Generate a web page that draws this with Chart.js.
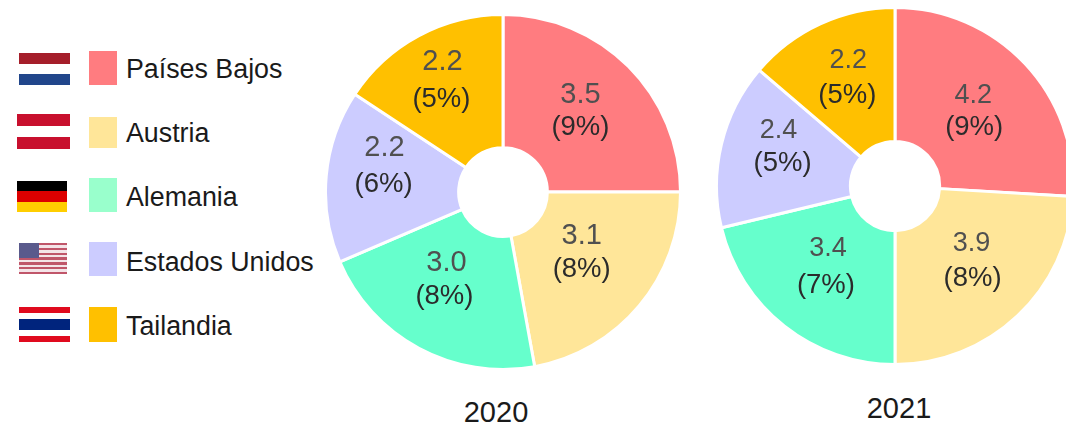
<!DOCTYPE html>
<html lang="es">
<head>
<meta charset="utf-8">
<script src="https://cdn.jsdelivr.net/npm/chart.js@4"></script>
<style>
html,body{margin:0;padding:0;background:#fff;overflow:hidden;width:1066px;height:428px}
#stage{position:relative;width:1066px;height:428px;overflow:hidden;background:#fff;font-family:"Liberation Sans",Arial,sans-serif;filter:blur(0.35px)}
#stage div,#stage span,#stage canvas{position:absolute;display:block}
.flag{box-sizing:border-box}
.sw{left:89px;width:28px}
.lt{left:126px;font-size:26.8px;line-height:34px;color:#1a1a1a;white-space:nowrap}
.yr{color:#1a1a1a;white-space:nowrap;line-height:34px;transform:translateX(-50%)}
</style>
</head>
<body>
<div id="stage">
  <div class="flag" style="left:19px;top:53px;width:51px;height:32px;background:linear-gradient(#a51e2a 0 11px,#fff 11px 21px,#21468b 21px)"></div>
  <div class="flag" style="left:17px;top:114px;width:53px;height:35px;background:linear-gradient(#c8102e 0 12px,#fff 12px 23px,#c8102e 23px)"></div>
  <div class="flag" style="left:17px;top:181px;width:50px;height:31px;background:linear-gradient(#000 0 10px,#dd0000 10px 21px,#ffce00 21px)"></div>
  <div class="flag" style="left:19px;top:243px;width:48px;height:31px;background:repeating-linear-gradient(#c0566a 0 2.4px,#f4e4e8 2.4px 4.8px)">
    <div style="left:0;top:0;width:20px;height:15px;background:#5a5a8c"></div>
  </div>
  <div class="flag" style="left:19px;top:307px;width:51px;height:35px;background:linear-gradient(#e00a1e 0 6px,#fff 6px 12px,#00247d 12px 23px,#fff 23px 29px,#e00a1e 29px)"></div>
  <canvas id="pie2020" style="left:324px;top:13px"></canvas>
  <canvas id="pie2021" style="left:715px;top:6px"></canvas>
  <span class="yr" style="left:496px;top:395px;font-size:29px">2020</span>
  <span class="yr" style="left:899px;top:391px;font-size:29px">2021</span>
</div>
<script>
const categories = ['Países Bajos', 'Austria', 'Alemania', 'Estados Unidos', 'Tailandia'];
const values2020 = [3.5, 3.1, 3.0, 2.2, 2.2];
const shares2020 = ['9%', '8%', '8%', '6%', '5%'];
const values2021 = [4.15, 3.85, 3.4, 2.4, 2.2];
const shares2021 = ['9%', '8%', '7%', '5%', '5%'];
const sliceColors = ['#FF7C80', '#FFE699', '#66FFCC', '#CCCCFF', '#FFC000'];
const legendColors = ['#FF7C80', '#FFE699', '#99FFCC', '#CCCCFF', '#FFC000'];

// label placement, relative to each slice's centre point
const valueNudge2020 = [[-1,-19],[-6.5,-27.5],[-4,-27],[-8,-34],[-8,-32]];
const shareNudge2020 = [[-1,14],[-6.5,6.5],[-6,7],[-9,2],[-9,5]];
const valueNudge2021 = [[-3,-14],[0,-24],[2,-25],[-8,-29],[0,-24]];
const shareNudge2021 = [[-2,18],[1,11],[0,12],[-4,3],[-1,11]];

// legend
const legendTops = [51, 117, 178, 242, 307];
const legendHeights = [34, 31, 34, 34, 35];
const legendTextMid = [69, 133, 197, 262, 326];
const stage = document.getElementById('stage');
categories.forEach((name, i) => {
  const s = document.createElement('div');
  s.className = 'sw';
  s.style.top = legendTops[i] + 'px';
  s.style.height = legendHeights[i] + 'px';
  s.style.background = legendColors[i];
  stage.appendChild(s);
  const t = document.createElement('span');
  t.className = 'lt';
  t.style.top = (legendTextMid[i] - 17) + 'px';
  t.textContent = name;
  stage.appendChild(t);
});

function sliceLabels(values, shares, valueNudge, shareNudge, valueFont, shareFont) {
  return {
    id: 'sliceLabels',
    afterDatasetsDraw(chart) {
      const c = chart.ctx;
      c.save();
      c.textAlign = 'center';
      c.textBaseline = 'middle';
      chart.getDatasetMeta(0).data.forEach((arc, i) => {
        const p = arc.getCenterPoint();
        c.font = valueFont + 'px "Liberation Sans", Arial, sans-serif';
        c.fillStyle = '#505050';
        c.fillText(values[i].toFixed(1), p.x + valueNudge[i][0], p.y + valueNudge[i][1]);
        c.font = shareFont + 'px "Liberation Sans", Arial, sans-serif';
        c.fillStyle = '#2b2b2b';
        c.fillText('(' + shares[i] + ')', p.x + shareNudge[i][0], p.y + shareNudge[i][1]);
      });
      c.restore();
    }
  };
}

function makePie(id, size, cutout, values, shares, valueNudge, shareNudge, valueFont, shareFont) {
  const el = document.getElementById(id);
  el.width = size; el.height = size;
  el.style.width = size + 'px'; el.style.height = size + 'px';
  return new Chart(el, {
    type: 'doughnut',
    data: {
      labels: categories,
      datasets: [{ data: values, backgroundColor: sliceColors, borderColor: '#FFFFFF', borderWidth: 3 }]
    },
    options: {
      responsive: false,
      animation: false,
      cutout: cutout,
      layout: { padding: 0 },
      plugins: { legend: { display: false }, tooltip: { enabled: false }, title: { display: false } }
    },
    plugins: [sliceLabels(values, shares, valueNudge, shareNudge, valueFont, shareFont)]
  });
}

makePie('pie2020', 358, '25%', values2020, shares2020, valueNudge2020, shareNudge2020, 29, 27.5);
makePie('pie2021', 360, '25%', values2021, shares2021, valueNudge2021, shareNudge2021, 27, 27.5);
</script>
</body>
</html>
